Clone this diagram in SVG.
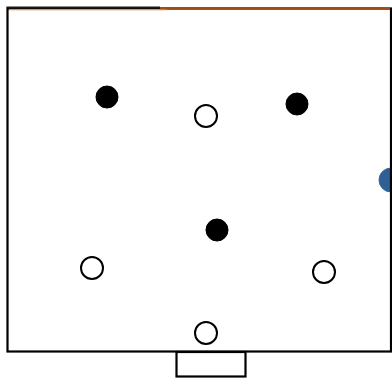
<svg xmlns="http://www.w3.org/2000/svg" width="392" height="378" viewBox="0 0 392 378">
<style>
.frame{fill:none;stroke:#000;stroke-width:2.2}
.on{fill:#000;stroke:#000;stroke-width:1}
.off{fill:#fff;stroke:#000;stroke-width:2}
</style>
<rect width="392" height="378" fill="#fff"/>
<g id="ball"><circle cx="391" cy="180" r="12" fill="#2e5f95" stroke="#3a6aa0" stroke-width="1"/></g>
<g id="field">
<rect class="frame" x="7.5" y="8.5" width="383.5" height="343"/>
<rect class="frame" x="176.5" y="352" width="69" height="24.5"/>
<line x1="6.5" y1="7.5" x2="160" y2="7.5" stroke="#1a1a1a" stroke-width="2"/>
<line x1="9" y1="9.6" x2="167" y2="9.6" stroke="#f0883a" stroke-width="1.3"/>
<line x1="160" y1="8.3" x2="390" y2="8.3" stroke="#a34c12" stroke-width="2"/>
</g>
<g id="p1"><circle class="on" cx="107" cy="97" r="11"/></g>
<g id="p2"><circle class="off" cx="206" cy="116" r="11"/></g>
<g id="p3"><circle class="on" cx="297" cy="104" r="11"/></g>
<g id="p4"><circle class="on" cx="217" cy="230" r="11"/></g>
<g id="p5"><circle class="off" cx="92" cy="268" r="11"/></g>
<g id="p6"><circle class="off" cx="324" cy="272" r="11"/></g>
<g id="p7"><circle class="off" cx="206" cy="333" r="11"/></g>
<g id="connectors"></g>
</svg>
